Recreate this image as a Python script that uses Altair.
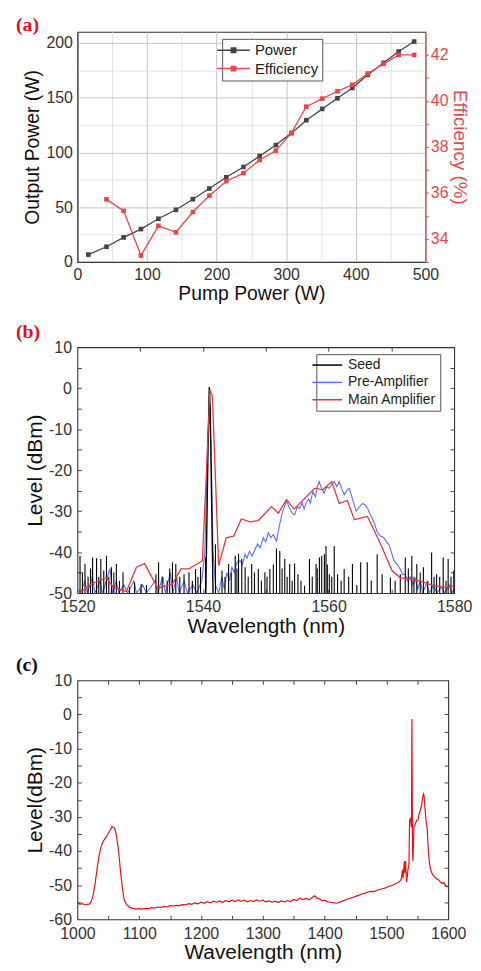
import altair as alt
import pandas as pd

# ---------------- Panel (a) ----------------
pump = [15.7, 41.8, 66.5, 91.3, 116.4, 141.6, 165.9, 189.6, 213.9, 238.6, 261.9,
        285.2, 307.5, 328.9, 351.7, 373.6, 395.0, 417.3, 440.1, 461.5, 483.8]
power = [6.7, 13.9, 22.4, 30.0, 39.4, 47.6, 57.3, 67.0, 77.3, 86.7, 96.7,
         106.7, 117.6, 129.4, 139.7, 149.4, 158.8, 170.9, 181.8, 192.1, 201.2]
eff_pump = [41.8, 66.5, 91.3, 116.4, 141.6, 165.9, 189.6, 213.9, 238.6, 261.9,
            285.2, 307.5, 328.9, 351.7, 373.6, 395.0, 417.3, 440.1, 461.5, 483.8]
efficiency = [35.72, 35.22, 33.28, 34.57, 34.29, 35.17, 35.88, 36.51, 36.86, 37.43,
              37.84, 38.61, 39.75, 40.10, 40.42, 40.70, 41.19, 41.61, 42.0, 42.0]

# ---------------- Panel (b) ----------------
main_wl = [1520.3, 1522.1, 1524.6, 1525.7, 1527.8, 1529.4, 1530.7, 1532.8, 1535.1, 1536.5,
           1537.8, 1539.9, 1540.6, 1541.1, 1541.5, 1542.5, 1543.7, 1544.9, 1546.1, 1547.5,
           1548.8, 1550.9, 1552.0, 1553.3, 1554.5, 1557.8, 1559.1, 1560.5, 1561.7, 1563.0,
           1564.1, 1566.2, 1568.3, 1570.1, 1571.4, 1574.6, 1576.7, 1578.8, 1579.9]
main_lvl = [-50.0, -47.9, -46.2, -48.6, -49.6, -43.7, -42.8, -48.8, -47.8, -44.1,
            -44.1, -42.1, -18.8, -0.4, -2.0, -43.3, -36.5, -36.1, -31.9, -32.6,
            -32.3, -28.9, -30.5, -27.2, -29.5, -24.4, -24.8, -22.8, -28.1, -27.4,
            -32.1, -31.3, -38.1, -44.5, -46.2, -47.1, -48.2, -48.6, -48.2]

pre_wl = [1520.0, 1520.5, 1521.2, 1521.6, 1522.4, 1522.8, 1523.6, 1524.0, 1525.2, 1525.6,
          1526.2, 1526.6, 1527.4, 1528.0, 1529.0, 1529.4, 1530.4, 1531.0, 1532.4, 1532.8,
          1533.6, 1534.0, 1534.8, 1535.2, 1535.8, 1536.2, 1537.0, 1537.5, 1538.4, 1539.0,
          1539.8, 1540.3, 1540.7, 1541.0, 1541.3, 1541.6, 1542.0, 1542.5, 1543.0, 1543.4,
          1543.8, 1544.2, 1544.6, 1545.0, 1545.4, 1545.9, 1546.3, 1546.7, 1547.0, 1547.4,
          1547.8, 1548.3, 1548.7, 1549.1, 1549.6, 1550.0, 1550.4, 1550.8, 1551.2, 1551.7,
          1552.2, 1552.7, 1553.3, 1553.7, 1554.2, 1554.6, 1555.0, 1555.4, 1555.8, 1556.1,
          1556.4, 1556.8, 1557.1, 1557.5, 1557.9, 1558.2, 1558.5, 1558.9, 1559.3, 1559.7,
          1560.1, 1560.5, 1560.9, 1561.3, 1561.7, 1562.1, 1562.5, 1562.9, 1563.3, 1563.8,
          1564.4, 1564.9, 1565.4, 1565.8, 1566.2, 1566.7, 1567.2, 1567.7, 1568.2, 1568.8,
          1569.2, 1569.6, 1570.0, 1570.4, 1570.9, 1571.4, 1571.8, 1572.2, 1572.6, 1573.0,
          1573.4, 1573.8, 1574.2, 1574.6, 1575.0, 1575.6, 1576.0, 1576.8, 1577.2, 1578.0,
          1578.4, 1579.2, 1579.6, 1580.0]
pre_lvl = [-49.0, -50.0, -47.0, -50.0, -46.0, -50.0, -47.0, -50.0, -44.0, -50.0,
           -47.0, -50.0, -48.0, -50.0, -47.0, -50.0, -48.0, -50.0, -47.0, -50.0,
           -46.0, -50.0, -45.0, -50.0, -46.0, -50.0, -47.0, -50.0, -48.0, -50.0,
           -47.0, -40.0, -15.0, -5.0, -15.0, -40.0, -48.0, -50.0, -46.0, -49.0,
           -45.0, -47.0, -43.7, -45.0, -42.5, -42.1, -43.0, -40.5, -41.5, -39.8,
           -41.0, -39.3, -38.0, -39.0, -36.5, -37.5, -35.3, -36.5, -35.7, -37.3,
           -33.3, -30.0, -27.6, -29.0, -30.5, -30.9, -29.0, -29.3, -28.0, -29.5,
           -28.1, -27.0, -28.0, -25.2, -26.5, -24.0, -22.8, -24.5, -25.6, -24.0,
           -24.4, -23.5, -22.8, -24.0, -22.8, -24.5, -26.0, -25.0, -24.4, -27.0,
           -30.0, -29.0, -28.1, -28.5, -29.3, -31.0, -32.5, -34.9, -36.0, -36.5,
           -37.5, -38.1, -40.0, -42.1, -43.0, -44.1, -45.5, -45.4, -47.0, -46.0,
           -48.0, -46.5, -49.0, -47.0, -50.0, -47.5, -50.0, -48.0, -50.0, -48.5,
           -50.0, -48.0, -50.0, -49.0]

seed_wl = [1520.42, 1520.8, 1521.21, 1521.7, 1522.1, 1522.42, 1523.05, 1523.4, 1523.73, 1524.2,
           1524.63, 1525.0, 1525.42, 1525.8, 1526.2, 1526.7, 1527.26, 1528.3, 1529.1, 1530.15,
           1531.0, 1532.51, 1532.93, 1533.5, 1534.3, 1534.7, 1535.14, 1535.67, 1536.3, 1536.98,
           1537.77, 1538.3, 1538.82, 1539.2, 1539.61, 1540.4, 1541.98, 1543.03, 1543.5, 1544.08,
           1544.5, 1545.13, 1545.4, 1545.66, 1546.18, 1546.71, 1547.2, 1547.76, 1548.2, 1548.81,
           1549.3, 1549.86, 1550.2, 1550.65, 1551.2, 1551.7, 1552.23, 1552.6, 1553.02, 1553.4,
           1553.81, 1554.2, 1554.59, 1555.12, 1555.6, 1556.17, 1556.96, 1557.4, 1558.01, 1558.2,
           1558.54, 1558.91, 1559.33, 1559.59, 1559.8, 1560.12, 1560.5, 1560.9, 1561.43, 1562.0,
           1562.48, 1563.2, 1563.8, 1564.5, 1565.11, 1566.16, 1566.8, 1567.74, 1568.53, 1569.84,
           1570.6, 1571.42, 1572.21, 1572.7, 1573.26, 1573.6, 1574.05, 1574.6, 1575.1, 1575.8,
           1576.41, 1576.8, 1577.2, 1577.7, 1578.25, 1578.7, 1579.04, 1579.5, 1579.94]
seed_top = [-40.9, -45.0, -42.9, -46.0, -44.0, -41.3, -41.5, -46.0, -41.7, -44.5,
            -40.9, -46.0, -43.7, -45.0, -42.9, -47.0, -44.9, -48.5, -47.4, -47.8,
            -48.0, -45.4, -42.5, -46.0, -47.0, -44.0, -42.5, -42.9, -46.0, -45.4,
            -44.9, -47.0, -44.1, -46.0, -43.7, -41.3, -38.1, -44.5, -46.0, -42.9,
            -45.0, -40.9, -44.0, -40.4, -41.7, -43.7, -46.0, -42.9, -45.0, -44.1,
            -47.0, -44.9, -46.0, -44.1, -43.0, -39.1, -39.7, -44.0, -41.7, -46.0,
            -42.9, -47.0, -42.8, -45.4, -47.0, -48.2, -41.7, -46.0, -42.9, -44.0,
            -41.3, -40.9, -40.5, -38.5, -43.0, -45.4, -46.0, -38.5, -45.4, -47.0,
            -44.1, -46.0, -42.9, -48.0, -42.5, -42.5, -47.0, -40.5, -45.4, -46.2,
            -47.0, -45.4, -41.3, -44.0, -40.9, -46.0, -42.9, -45.0, -43.7, -47.0,
            -40.1, -46.0, -45.4, -46.0, -41.3, -47.0, -41.7, -46.0, -44.5]
seed_peak_wl = [1540.45, 1540.8, 1541.0, 1541.15, 1541.3, 1541.6]
seed_peak_lvl = [-50.0, -15.0, 0.3, -5.0, -20.0, -50.0]

# ---------------- Panel (c) ----------------
sc_wl = [1000, 1004, 1008, 1012, 1016, 1020, 1023, 1026, 1029, 1032, 1035, 1038, 1041, 1044,
         1047, 1050, 1053, 1056, 1058, 1060, 1062, 1064, 1066, 1068, 1070, 1072, 1074, 1076,
         1080, 1085, 1090, 1095, 1100, 1105, 1110, 1115, 1120, 1125, 1130, 1135, 1140, 1145,
         1150, 1155, 1160, 1165, 1170, 1175, 1180, 1185, 1190, 1195, 1200, 1205, 1210, 1215,
         1220, 1225, 1230, 1235, 1240, 1245, 1250, 1255, 1260, 1265, 1270, 1275, 1280, 1285,
         1290, 1295, 1300, 1305, 1310, 1315, 1320, 1325, 1330, 1335, 1340, 1345, 1350, 1355,
         1360, 1365, 1370, 1375, 1380, 1384, 1388, 1392, 1396, 1400, 1405, 1410, 1415, 1420,
         1425, 1430, 1435, 1440, 1445, 1450, 1455, 1460, 1465, 1470, 1475, 1480, 1485, 1490,
         1495, 1500, 1505, 1510, 1514, 1518, 1521, 1524, 1526, 1527, 1529, 1530, 1531, 1532.5,
         1534, 1535, 1536.5, 1537.5, 1539, 1540.5, 1541.3, 1542.2, 1543, 1544.5, 1547, 1549,
         1551, 1553, 1555, 1557, 1559, 1560, 1561, 1562, 1564, 1566, 1568, 1570, 1572, 1575,
         1578, 1581, 1584, 1587, 1590, 1593, 1596, 1599, 1600]
sc_lvl = [-55.0, -55.6, -55.4, -55.8, -55.7, -55.5, -54.6, -52.5, -49.1, -45.0, -41.4, -39.0, -37.4, -36.5,
          -35.8, -34.8, -33.9, -32.8, -33.0, -33.3, -34.5, -36.5, -39.0, -42.5, -46.5, -49.5, -52.5, -54.5,
          -55.8, -56.5, -56.8, -57.0, -56.9, -57.0, -56.8, -56.9, -56.6, -56.7, -56.4, -56.5, -56.2, -56.4,
          -56.0, -56.1, -55.9, -56.0, -55.7, -55.8, -55.4, -55.6, -55.2, -55.5, -55.0, -55.3, -54.8, -55.2,
          -54.7, -55.0, -54.6, -55.1, -54.5, -54.9, -54.4, -54.8, -54.3, -54.7, -54.4, -54.9, -54.5, -54.8,
          -54.3, -54.7, -54.4, -54.9, -54.6, -55.0, -54.7, -55.1, -54.6, -54.9, -54.5, -54.8, -54.2, -54.5,
          -53.8, -54.2, -53.9, -54.3, -53.6, -53.1, -53.8, -54.0, -54.6, -54.4, -54.9, -55.0, -55.2, -55.3,
          -54.9, -54.6, -54.2, -53.9, -53.6, -53.3, -53.0, -52.6, -52.4, -52.0, -51.8, -51.9, -51.5, -51.2,
          -51.0, -50.7, -50.3, -50.1, -49.6, -49.3, -49.0, -48.2, -45.5, -48.0, -43.0, -46.5, -42.9, -49.1,
          -47.0, -45.3, -44.0, -31.0, -30.5, -33.0, -1.3, -40.0, -42.9, -33.0, -32.0, -31.0,
          -30.9, -29.0, -28.0, -26.5, -24.0, -23.3, -23.8, -26.5, -30.9, -33.5, -40.5, -44.0, -45.8, -47.0,
          -47.5, -48.1, -48.4, -49.0, -49.5, -49.2, -50.3, -50.5, -50.3]

FONT = "Liberation Sans"
RED_A = "#e8464d"
GRAY_A = "#454545"

df_pow = pd.DataFrame({"pump": pump, "val": power, "series": "Power"})
df_eff = pd.DataFrame({"pump": eff_pump, "val": efficiency, "series": "Efficiency"})

leg_a = alt.Legend(orient="none", legendX=146, legendY=7, title=None,
                   strokeColor="#555", fillColor="white", padding=4,
                   labelFont=FONT, labelFontSize=15, labelColor="#222",
                   symbolType="M-3,0H3M-0.4,-0.4H0.4V0.4H-0.4Z", symbolSize=121,
                   symbolStrokeWidth=1.5, labelOffset=14, rowPadding=2.5)
color_a = alt.Scale(domain=["Power", "Efficiency"], range=[GRAY_A, RED_A])
x_a = alt.X("pump:Q", scale=alt.Scale(domain=[0, 500], nice=False),
            axis=alt.Axis(values=list(range(0, 501, 50)), title="Pump Power (W)",
                          labelExpr="datum.value % 100 === 0 ? datum.value + '' : ''",
                          grid=True,
                          gridColor={"condition": {"test": "datum.value % 100 === 0", "value": "#c4c4c4"}, "value": "#e4e4e4"},
                          ticks=False, domainColor="#333", labelFontSize=16, titleFontSize=19.5,
                          labelPadding=5, titlePadding=2))

pow_layer = alt.Chart(df_pow).mark_line(strokeWidth=1.3, point=alt.OverlayMarkDef(shape="square", size=22, filled=True)).encode(
    x=x_a,
    y=alt.Y("val:Q", scale=alt.Scale(domain=[0, 210], nice=False),
            axis=alt.Axis(values=list(range(0, 201, 25)), title="Output Power (W)",
                          labelExpr="datum.value % 50 === 0 ? datum.value + '' : ''",
                          grid=True,
                          gridColor={"condition": {"test": "datum.value % 50 === 0", "value": "#c4c4c4"}, "value": "#e4e4e4"},
                          ticks=False, domainColor="#333", labelFontSize=16, titleFontSize=19.5,
                          labelPadding=5, titlePadding=4)),
    color=alt.Color("series:N", scale=color_a, legend=leg_a),
)
eff_layer = alt.Chart(df_eff).mark_line(strokeWidth=1.3, point=alt.OverlayMarkDef(shape="square", size=22, filled=True)).encode(
    x=x_a,
    y=alt.Y("val:Q", scale=alt.Scale(domain=[33, 43], nice=False),
            axis=alt.Axis(orient="right", values=list(range(33, 43)), title="Efficiency (%)",
                          labelExpr="datum.value % 2 === 0 ? datum.value + '' : ''",
                          grid=False, ticks=True, tickSize=3, tickColor=RED_A,
                          domainColor=RED_A, labelColor=RED_A, titleColor=RED_A,
                          labelFontSize=16, titleFontSize=19, labelPadding=2, titlePadding=2)),
    color=alt.Color("series:N", scale=color_a, legend=leg_a),
)
panel_a = alt.layer(pow_layer, eff_layer).resolve_scale(y="independent").properties(
    width=351, height=232,
    title=alt.TitleParams(text="(a)", anchor="start", frame="group", dx=-62, offset=-3,
                          font="Liberation Serif", fontSize=20, fontWeight="bold", color="#e01020"),
)


def tick_layers(df, xf, yf, xs, ys, xt, yt):
    common = dict(labels=False, domain=False, grid=False, title=None, ticks=True,
                  tickSize=4, offset=-4, tickColor="#444", tickWidth=1)
    bl = alt.Chart(df).mark_line(opacity=0).encode(
        x=alt.X(xf, scale=xs, axis=alt.Axis(orient="bottom", values=xt, **common)),
        y=alt.Y(yf, scale=ys, axis=alt.Axis(orient="left", values=yt, **common)),
    )
    tr = alt.Chart(df).mark_line(opacity=0).encode(
        x=alt.X(xf, scale=xs, axis=alt.Axis(orient="top", values=xt, **common)),
        y=alt.Y(yf, scale=ys, axis=alt.Axis(orient="right", values=yt, **common)),
    )
    return bl, tr


# ---------- panel b ----------
df_main = pd.DataFrame({"wl": main_wl, "lvl": main_lvl, "series": "Main Amplifier"})
df_pre = pd.DataFrame({"wl": pre_wl, "lvl": pre_lvl, "series": "Pre-Amplifier"})
df_seed = pd.DataFrame({"wl": seed_wl, "lvl": seed_top, "series": "Seed"})
df_seedpk = pd.DataFrame({"wl": seed_peak_wl, "lvl": seed_peak_lvl, "series": "Seed"})

xs_b = alt.Scale(domain=[1520, 1580], nice=False)
ys_b = alt.Scale(domain=[-50, 10], nice=False)
color_b = alt.Scale(domain=["Seed", "Pre-Amplifier", "Main Amplifier"],
                    range=["#000000", "#5d6ef2", "#e23a3a"])
leg_b = alt.Legend(orient="none", legendX=241, legendY=7, title=None,
                   strokeColor="#555", fillColor="white", padding=4,
                   labelFont=FONT, labelFontSize=14, labelColor="#222",
                   symbolType="M-3,0H3", symbolSize=100, symbolStrokeWidth=1.5,
                   labelOffset=14, rowPadding=3.5)
lab_axis_b_x = alt.Axis(orient="bottom", values=[1520, 1540, 1560, 1580], title="Wavelength (nm)",
                        labelExpr="datum.value + ''", ticks=False, domain=False, grid=False,
                        labelFontSize=16, titleFontSize=21, labelPadding=6, titlePadding=1)
lab_axis_b_y = alt.Axis(orient="left", values=list(range(-50, 11, 10)), title="Level (dBm)",
                        labelExpr="datum.value + ''", ticks=False, domain=False, grid=False,
                        labelFontSize=16, titleFontSize=21, labelPadding=6, titlePadding=3)

bl_b, tr_b = tick_layers(df_main, "wl:Q", "lvl:Q", xs_b, ys_b,
                         [1530, 1540, 1550, 1560, 1570], list(range(-45, 10, 5)))
pre_line = alt.Chart(df_pre).mark_line(strokeWidth=1.1, clip=True).encode(
    x=alt.X("wl:Q", scale=xs_b, axis=None), y=alt.Y("lvl:Q", scale=ys_b, axis=None),
    color=alt.Color("series:N", scale=color_b, legend=leg_b))
seed_rules = alt.Chart(df_seed).mark_rule(strokeWidth=1.1, clip=True).encode(
    x=alt.X("wl:Q", scale=xs_b, axis=None), y=alt.Y("lvl:Q", scale=ys_b, axis=None),
    y2=alt.datum(-50),
    color=alt.Color("series:N", scale=color_b, legend=leg_b))
seed_peak = alt.Chart(df_seedpk).mark_line(strokeWidth=1.4, clip=True).encode(
    x=alt.X("wl:Q", scale=xs_b, axis=None), y=alt.Y("lvl:Q", scale=ys_b, axis=None),
    color=alt.Color("series:N", scale=color_b, legend=leg_b))
main_line = alt.Chart(df_main).mark_line(strokeWidth=1.3, clip=True).encode(
    x=alt.X("wl:Q", scale=xs_b, axis=lab_axis_b_x), y=alt.Y("lvl:Q", scale=ys_b, axis=lab_axis_b_y),
    color=alt.Color("series:N", scale=color_b, legend=leg_b))

panel_b = alt.layer(bl_b, tr_b, pre_line, seed_rules, seed_peak, main_line).resolve_axis(
    x="independent", y="independent").properties(
    width=380, height=248,
    title=alt.TitleParams(text="(b)", anchor="start", frame="group", dx=-62, offset=-3,
                          font="Liberation Serif", fontSize=20, fontWeight="bold", color="#e01020"),
)

# ---------- panel c ----------
df_c = pd.DataFrame({"wl": sc_wl, "lvl": sc_lvl})
xs_c = alt.Scale(domain=[1000, 1600], nice=False)
ys_c = alt.Scale(domain=[-60, 10], nice=False)
bl_c, tr_c = tick_layers(df_c, "wl:Q", "lvl:Q", xs_c, ys_c,
                         list(range(1050, 1600, 50)), list(range(-55, 10, 5)))
c_line = alt.Chart(df_c).mark_line(strokeWidth=1.2, color="#e01515", clip=True).encode(
    x=alt.X("wl:Q", scale=xs_c,
            axis=alt.Axis(orient="bottom", values=list(range(1000, 1601, 100)), title="Wavelength (nm)",
                          labelExpr="datum.value + ''", ticks=False, domain=False, grid=False,
                          labelFontSize=16, titleFontSize=21, labelPadding=6, titlePadding=1)),
    y=alt.Y("lvl:Q", scale=ys_c,
            axis=alt.Axis(orient="left", values=list(range(-60, 11, 10)), title="Level(dBm)",
                          labelExpr="datum.value + ''", ticks=False, domain=False, grid=False,
                          labelFontSize=16, titleFontSize=21, labelPadding=6, titlePadding=3)),
)
panel_c = alt.layer(bl_c, tr_c, c_line).resolve_axis(x="independent", y="independent").properties(
    width=374, height=241,
    title=alt.TitleParams(text="(c)", anchor="start", frame="group", dx=-62, offset=-3,
                          font="Liberation Serif", fontSize=20, fontWeight="bold", color="#111"),
)

chart = alt.vconcat(panel_a, panel_b, panel_c, spacing=17).resolve_scale(
    color="independent"
).properties(
    padding={"left": 7, "top": 2, "right": 0, "bottom": 0},
    background="white",
).configure_view(stroke="#333", strokeWidth=1.1).configure_axis(
    labelFont=FONT, titleFont=FONT, labelColor="#333", titleColor="#111", titleFontWeight="normal",
    labelFlush=False
).configure_legend(labelFont=FONT)

chart.save("out.html", embed_options={"renderer": "svg", "actions": False})
